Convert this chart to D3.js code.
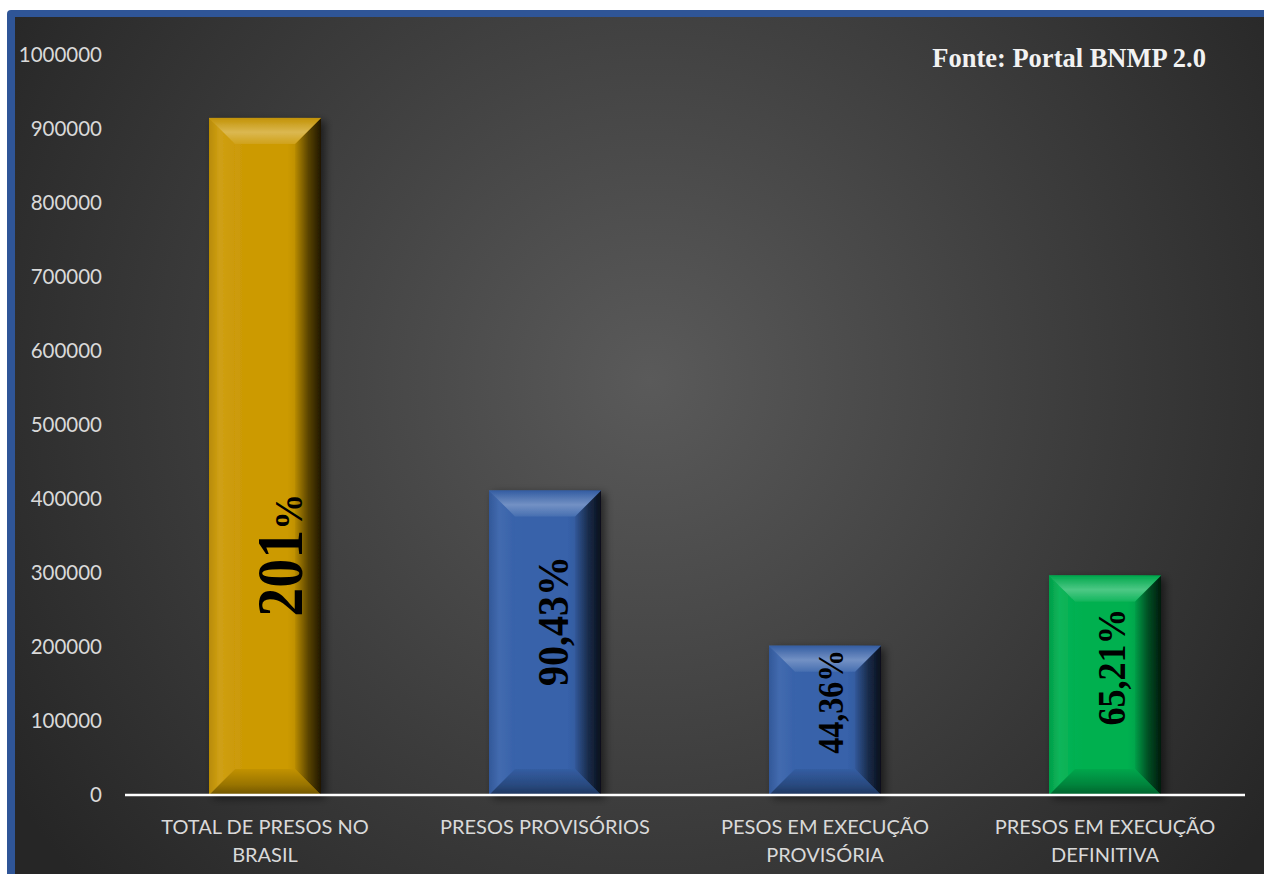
<!DOCTYPE html>
<html><head><meta charset="utf-8">
<script src="https://cdn.jsdelivr.net/npm/d3@7"></script>
<style>
html,body{margin:0;padding:0;background:#fff;overflow:hidden}
svg{display:block}
</style></head>
<body>
<svg id="chart" width="1264" height="874"></svg>
<script>
// ---- DATA ----
const categories = ["TOTAL DE PRESOS NO BRASIL", "PRESOS PROVISÓRIOS", "PESOS EM EXECUÇÃO PROVISÓRIA", "PRESOS EM EXECUÇÃO DEFINITIVA"];
const values = [915000, 411500, 201800, 296700];
const capacity = [455000, 455000, 455000, 455000];
const pctNumbers = ["201", "90,43", "44,36", "65,21"];
const yTicks = [0, 100000, 200000, 300000, 400000, 500000, 600000, 700000, 800000, 900000, 1000000];
const sourceText = "Fonte: Portal BNMP 2.0";

// ---- LAYOUT / STYLE ----
const W = 1264, H = 874;
const barColors = ["#CC9A06", "#3762AA", "#3762AA", "#00B050"];
const labelStyle = [
  {size: 58, pctSize: 36, at: 324000, dx: 37},
  {size: 40, pctSize: 40, at: 235000, dx: 23},
  {size: 32, pctSize: 32, at: 126000, dx: 18},
  {size: 36, pctSize: 36, at: 173000, dx: 20}
];

const svg = d3.select("#chart");
const defs = svg.append("defs");

// background radial gradient
const rg = defs.append("radialGradient").attr("id", "bg")
  .attr("gradientUnits", "userSpaceOnUse").attr("cx", 650).attr("cy", 380).attr("r", 760);
rg.append("stop").attr("offset", 0).attr("stop-color", "#5a5a5a");
rg.append("stop").attr("offset", 0.55).attr("stop-color", "#3d3d3d");
rg.append("stop").attr("offset", 1).attr("stop-color", "#262626");

// shadow filters
const f = defs.append("filter").attr("id", "shadow").attr("x", "-30%").attr("y", "-10%").attr("width", "160%").attr("height", "130%");
f.append("feDropShadow").attr("dx", 4).attr("dy", 3).attr("stdDeviation", 4).attr("flood-color", "#000").attr("flood-opacity", 0.55);
const f2 = defs.append("filter").attr("id", "lshadow").attr("x", "-5%").attr("y", "-200%").attr("width", "110%").attr("height", "500%");
f2.append("feDropShadow").attr("dx", 2).attr("dy", 3).attr("stdDeviation", 2.5).attr("flood-color", "#000").attr("flood-opacity", 0.6);

// frame
svg.append("rect").attr("x", 7).attr("y", 10).attr("width", W + 20).attr("height", H + 20).attr("rx", 4).attr("fill", "#2F5597");
svg.append("rect").attr("x", 15).attr("y", 17).attr("width", W).attr("height", H).attr("fill", "url(#bg)");

// scales
const x = d3.scaleBand().domain(categories).range([125, 1245]).paddingInner(0.6).paddingOuter(0.3);
const y = d3.scaleLinear().domain([0, 1000000]).range([795, 55]);

// y axis labels
const yAxis = svg.append("g").attr("transform", "translate(102,0)")
  .call(d3.axisLeft(y).tickValues(yTicks).tickFormat(d3.format("d")).tickSize(0).tickPadding(0));
yAxis.select(".domain").remove();
yAxis.selectAll("text").attr("fill", "#D9D9D9").attr("font-family", "Lato, 'Open Sans', sans-serif").attr("font-size", 20.5);

// gradients per bar
function mk(id, x1, y1, x2, y2, stops) {
  const g = defs.append("linearGradient").attr("id", id).attr("x1", x1).attr("y1", y1).attr("x2", x2).attr("y2", y2);
  stops.forEach(s => g.append("stop").attr("offset", s[0]).attr("stop-color", s[1]));
}
barColors.forEach((c, i) => {
  const hi = d3.interpolateRgb(c, "#ffffff");
  const lo = d3.interpolateRgb(c, "#000000");
  mk("face" + i, 0, 0, 1, 0, [[0, hi(0.05)], [0.3, c], [0.7, c], [0.88, lo(0.15)], [1, lo(0.35)]]);
  mk("top" + i, 0, 0, 0, 1, [[0, lo(0.05)], [0.55, hi(0.3)], [1, hi(0.08)]]);
  mk("bot" + i, 0, 0, 0, 1, [[0, lo(0.05)], [0.6, lo(0.25)], [1, lo(0.45)]]);
  mk("left" + i, 0, 0, 1, 0, [[0, lo(0.1)], [0.4, hi(0.06)], [1, c]]);
  mk("right" + i, 0, 0, 1, 0, [[0, lo(0.1)], [0.5, lo(0.55)], [1, lo(0.85)]]);
});

// bars
const B = 26;
const data = categories.map((c, i) => ({c, v: values[i], i}));
const bars = svg.append("g").selectAll("g").data(data).join("g").attr("filter", "url(#shadow)");
bars.each(function(d) {
  const g = d3.select(this);
  const x0 = x(d.c), x1 = x0 + x.bandwidth(), y0 = y(d.v), y1 = y(0);
  const b = Math.min(B, (y1 - y0) / 2);
  g.append("rect").attr("x", x0).attr("y", y0).attr("width", x1 - x0).attr("height", y1 - y0).attr("fill", `url(#face${d.i})`);
  const poly = pts => pts.map(p => p.join(",")).join(" ");
  g.append("polygon").attr("points", poly([[x0, y0], [x0 + B, y0 + b], [x0 + B, y1 - b], [x0, y1]])).attr("fill", `url(#left${d.i})`);
  g.append("polygon").attr("points", poly([[x1, y0], [x1 - B, y0 + b], [x1 - B, y1 - b], [x1, y1]])).attr("fill", `url(#right${d.i})`);
  g.append("polygon").attr("points", poly([[x0, y0], [x1, y0], [x1 - B, y0 + b], [x0 + B, y0 + b]])).attr("fill", `url(#top${d.i})`);
  g.append("polygon").attr("points", poly([[x0 + B, y1 - b], [x1 - B, y1 - b], [x1, y1], [x0, y1]])).attr("fill", `url(#bot${d.i})`);
});

// zero line
svg.append("line").attr("x1", 125).attr("x2", 1245).attr("y1", y(0)).attr("y2", y(0)).attr("stroke", "#FFFFFF").attr("stroke-width", 2.5);

// capacity line
const line = d3.line().x((d, i) => x(categories[i]) + x.bandwidth() / 2).y(d => y(d));
svg.append("path").attr("d", line(capacity)).attr("fill", "none").attr("stroke", "#FF0000")
  .attr("stroke-width", 8).attr("stroke-linecap", "round").attr("filter", "url(#lshadow)");

// value labels (rotated)
data.forEach(d => {
  const s = labelStyle[d.i];
  const cx = x(d.c) + x.bandwidth() / 2 + s.dx;
  const t = svg.append("text").attr("transform", `translate(${cx},${y(s.at)}) rotate(-90) scale(1,1.12)`)
    .attr("text-anchor", "middle").attr("font-family", "'Liberation Serif', 'Times New Roman', serif")
    .attr("font-weight", "bold").attr("fill", "#000");
  t.append("tspan").attr("font-size", s.size).text(pctNumbers[d.i]);
  t.append("tspan").attr("font-size", s.pctSize).text("%");
});

// category labels with wrapping
const catG = svg.append("g");
categories.forEach(c => {
  const cx = x(c) + x.bandwidth() / 2;
  const words = c.split(" ");
  const t = catG.append("text").attr("text-anchor", "middle").attr("fill", "#D9D9D9")
    .attr("font-family", "Lato, 'Open Sans', sans-serif").attr("font-size", 20);
  let lineWords = [], lineNo = 0;
  let ts = t.append("tspan").attr("x", cx).attr("y", 834);
  words.forEach(w => {
    lineWords.push(w);
    ts.text(lineWords.join(" "));
    if (ts.node().getComputedTextLength() > 235 && lineWords.length > 1) {
      lineWords.pop();
      ts.text(lineWords.join(" "));
      lineWords = [w];
      lineNo++;
      ts = t.append("tspan").attr("x", cx).attr("y", 834 + lineNo * 28).text(w);
    }
  });
});

// source
svg.append("text").attr("x", 1206).attr("y", 67).attr("text-anchor", "end")
  .attr("font-family", "'Liberation Serif', 'Times New Roman', serif").attr("font-weight", "bold")
  .attr("font-size", 26.5).attr("fill", "#F2F2F2").text(sourceText);
</script>
</body></html>
